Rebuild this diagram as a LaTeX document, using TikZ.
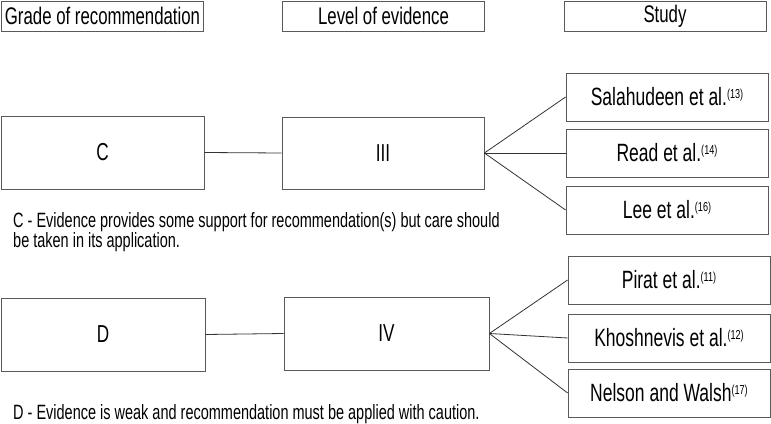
\documentclass[tikz,border=0pt]{standalone}
\usepackage{fontspec}
\setmainfont{Liberation Sans}[FakeStretch=0.7]
\newcommand\refnum[1]{\raisebox{7pt}{\fontsize{13}{13}\selectfont(#1)}}
\begin{document}
\begin{tikzpicture}[x=1pt,y=-1pt,
  box/.style={draw=black!65, line width=0.8pt, inner sep=0pt, fill=white},
  headbox/.style={box, minimum width=202pt, minimum height=30pt, font=\fontsize{24}{26}\selectfont},
  bigbox/.style={box, minimum width=203pt, minimum height=73pt, font=\fontsize{24.5}{26}\selectfont},
  studybox/.style={box, minimum width=202pt, minimum height=48pt, font=\fontsize{25}{26}\selectfont},
  desc/.style={anchor=base west, inner sep=0pt, font=\fontsize{20.7}{22}\selectfont},
  link/.style={draw=black!80, line width=0.8pt}]
\useasboundingbox (0,0) rectangle (771,423);
% headers
\node[headbox] (h1) at (102.5,16) {Grade of recommendation};
\node[headbox] (h2) at (383.5,16) {Level of evidence};
\node[headbox] (h3) at (665,16) {Study};
% row C
\node[bigbox] (C) at (102.5,152.5) {C};
\node[bigbox, minimum width=202pt, minimum height=72pt] (III) at (383,153) {III};
\node[studybox] (s1) at (667,97) {Salahudeen et al.\refnum{13}};
\node[studybox] (s2) at (667,153) {Read et al.\refnum{14}};
\node[studybox] (s3) at (667,210) {Lee et al.\refnum{16}};
\draw[link] (C.east) -- (III.west);
\draw[link] (III.east) -- (s1.west);
\draw[link] (III.east) -- (s2.west);
\draw[link] (III.east) -- (s3.west);
\node[desc] (dc1) at (13,227) {C - Evidence provides some support for recommendation(s) but care should};
\node[desc] (dc2) at (13,247) {be taken in its application.};
% row D
\node[bigbox, minimum width=204pt] (D) at (103,334.5) {D};
\node[bigbox, minimum width=205pt] (IV) at (386.5,333.5) {IV};
\node[studybox] (p1) at (669,280) {Pirat et al.\refnum{11}};
\node[studybox] (p2) at (669,338) {Khoshnevis et al.\refnum{12}};
\node[studybox] (p3) at (669,393) {Nelson and Walsh\refnum{17}};
\draw[link] (D.east) -- (IV.west);
\draw[link] (IV.east) -- (p1.west);
\draw[link] (IV.east) -- (p2.west);
\draw[link] (IV.east) -- (p3.west);
\node[desc] (dd) at (13,419) {D - Evidence is weak and recommendation must be applied with caution.};
\end{tikzpicture}
\end{document}
